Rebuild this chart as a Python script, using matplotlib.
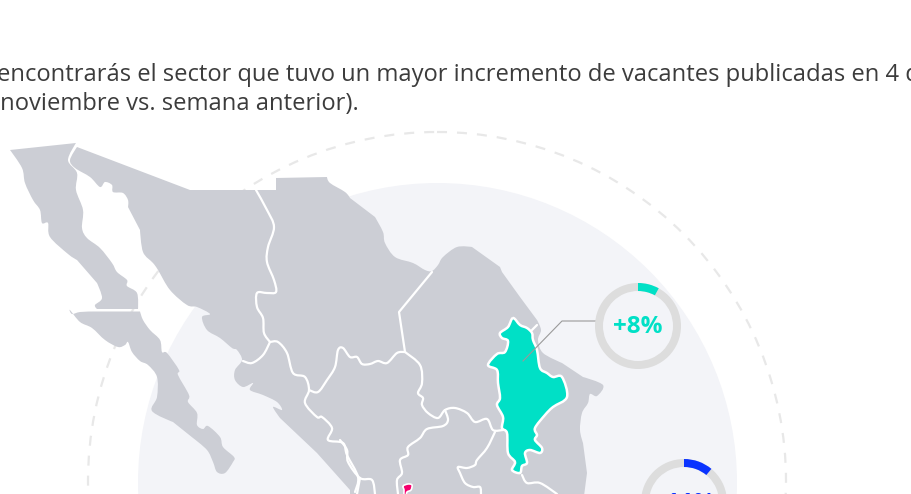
"""Mapa de vacantes: recorte con anillos de porcentaje por estado."""

import matplotlib

matplotlib.use("Agg")
import matplotlib.pyplot as plt
from matplotlib.patches import Circle, PathPatch, Wedge
from matplotlib.path import Path

# Texto de cabecera
LINE_1 = "encontrarás el sector que tuvo un mayor incremento de vacantes publicadas en 4 de"
LINE_2 = "(noviembre vs. semana anterior)."

# Contornos del mapa, en pixeles de la imagen
baja_norte = [
    (10, 150), (76, 143), (68, 160), (77, 173), (76, 190), (83, 210), (82, 228), (87, 238),
    (100, 248), (112, 263), (117, 272), (127, 280), (127, 286), (137, 293), (138, 309),
    (97, 309), (95, 305), (102, 298), (97, 283), (77, 260), (68, 254), (50, 237), (48, 223),
    (42, 223), (40, 210), (33, 200), (25, 183), (22, 168),
]
baja_sur = [
    (70, 310), (72, 314), (80, 312), (93, 311.5), (140, 311.5), (143, 320), (150, 330),
    (160, 340), (162, 352), (167, 353), (179, 370), (178, 375), (189, 395), (188, 402),
    (197, 413), (197, 425), (203, 429), (208, 426), (220, 437), (223, 447), (234, 457),
    (233, 462), (225, 473), (217, 472), (213, 462), (207, 450), (193, 438), (173, 422),
    (152, 411), (157, 397), (157, 377), (148, 365), (140, 361), (132, 352), (128, 342),
    (125, 345), (118, 347), (105, 340), (92, 328), (80, 322),
]
continente = [
    (77, 147), (190, 190), (276, 190), (276, 178), (327, 177), (330, 183), (345, 192),
    (350, 198), (375, 217), (383, 232), (385, 243), (395, 257), (413, 263), (425, 270),
    (432, 271), (438, 265), (443, 257), (457, 247), (472, 247), (500, 267), (502, 272),
    (520, 297), (537, 320), (541, 330), (538, 340), (543, 353), (562, 363), (583, 377),
    (603, 385), (597, 396), (590, 394), (588, 403), (582, 413), (580, 430), (583, 443),
    (587, 473), (584, 496), (350, 496), (350, 490), (317, 453), (280, 418), (273, 407),
    (282, 410), (277, 402), (263, 395), (250, 390), (253, 383), (243, 387), (235, 380),
    (235, 370), (242, 360), (237, 350), (232, 348), (220, 338), (207, 330), (202, 317),
    (210, 314), (197, 307), (187, 305), (170, 290), (158, 270), (153, 263), (143, 252),
    (140, 230), (128, 207), (128, 200), (123, 193), (113, 192), (112, 185), (105, 182),
    (100, 187), (90, 177), (75, 168), (70, 160),
]
nuevo_leon = [
    (513, 318), (508, 327), (500, 333), (502, 338), (508, 341), (505, 352), (497, 354),
    (488, 365), (497, 370), (498, 383), (500, 398), (497, 405), (503, 417), (502, 428),
    (507, 433), (508, 453), (515, 462), (512, 470), (520, 473), (522, 466), (527, 463),
    (525, 453), (530, 450), (540, 453), (542, 448), (535, 440), (537, 435), (535, 428),
    (545, 415), (553, 407), (567, 397), (562, 377), (553, 377), (547, 373), (540, 368),
    (537, 350), (533, 340), (532, 333), (527, 328), (520, 325),
]
aguascalientes = [
    (403, 486), (408, 484), (412, 485), (411, 490), (407, 492), (406, 496), (404, 496), (404, 490),
]

# Fronteras entre estados
fronteras = [
    [(256, 190), (267, 210), (274, 227), (268, 247), (267, 262), (274, 280), (276, 292),
     (267, 293), (257, 293), (257, 307), (263, 318), (264, 333), (270, 342)],
    [(270, 342), (263, 355), (252, 363), (243, 361)],
    [(270, 342), (278, 342), (287, 353), (293, 373), (305, 377), (309, 390), (305, 403),
     (317, 417), (322, 417), (332, 428), (328, 440), (343, 443), (347, 455), (358, 477), (355, 492)],
    [(309, 390), (318, 392), (327, 380), (335, 367), (338, 350), (343, 348), (350, 357),
     (357, 357), (362, 364), (370, 364), (378, 361), (387, 363), (397, 353), (405, 352)],
    [(432, 272), (399, 312), (405, 352)],
    [(405, 352), (420, 365), (422, 383), (418, 393), (423, 398), (422, 405), (428, 413),
     (438, 418), (445, 410), (455, 408), (467, 413), (475, 422), (487, 419), (493, 430), (503, 430)],
    [(340, 440), (347, 450), (348, 462), (360, 478), (372, 480), (375, 494)],
    [(360, 478), (357, 494)],
    [(445, 410), (448, 420), (443, 426), (427, 429), (420, 438), (408, 447), (408, 455),
     (400, 460), (402, 473), (397, 480), (398, 494)],
    [(495, 432), (487, 448), (477, 460), (475, 465), (467, 468), (458, 467), (460, 473),
     (465, 483), (473, 487), (480, 487), (481, 494)],
    [(522, 475), (527, 483), (540, 483), (557, 494)],
    [(532, 330), (537, 325)],
]

# Anillos: centro, valor, color y linea base del texto
ring_labels = ["+8%", "+11%"]
ring_values = [8, 11]
ring_centers = [(638, 326), (684, 502)]
ring_baselines = [333, 509.5]
ring_colors = ["#00E0C6", "#0A33FF"]

GREY_MAP = "#CCCED5"
PALE = "#F3F4F8"
LONG_SEGMENT = 25


def _smooth(points, closed=True):
    # Bezier por tramos; los tramos largos quedan rectos
    pts = list(points) + ([points[0]] if closed else [])
    n = len(pts)

    def dist(a, b):
        return ((a[0] - b[0]) ** 2 + (a[1] - b[1]) ** 2) ** 0.5

    tangents = []
    for i in range(n):
        if closed:
            prev_p, next_p = pts[(i - 1) % (n - 1)], pts[(i + 1) % (n - 1)]
        else:
            prev_p, next_p = pts[max(i - 1, 0)], pts[min(i + 1, n - 1)]
        if dist(prev_p, pts[i]) > LONG_SEGMENT or dist(next_p, pts[i]) > LONG_SEGMENT:
            tangents.append((0, 0))
        else:
            tangents.append(((next_p[0] - prev_p[0]) / 6, (next_p[1] - prev_p[1]) / 6))

    verts = [pts[0]]
    codes = [Path.MOVETO]
    for i in range(n - 1):
        a, b = pts[i], pts[i + 1]
        ta, tb = tangents[i], tangents[i + 1]
        verts += [(a[0] + ta[0], a[1] + ta[1]), (b[0] - tb[0], b[1] - tb[1]), b]
        codes += [Path.CURVE4] * 3
    return Path(verts, codes)


fig = plt.figure(figsize=(9.12, 4.94), dpi=100)
ax = fig.add_axes([0, 0, 1, 1])
ax.set_xlim(0, 912)
ax.set_ylim(494, 0)
ax.axis("off")

ax.add_patch(Circle((437.5, 482.5), 299.5, fc=PALE, ec="none", zorder=1))
ax.add_patch(Circle((437, 481), 349, fc="none", ec="#E8E8E8", lw=1.6, ls=(0, (4.5, 4.5)), zorder=1))

for outline in (baja_norte, baja_sur, continente):
    ax.add_patch(PathPatch(_smooth(outline), fc=GREY_MAP, ec="none", zorder=2))
for border in fronteras:
    ax.add_patch(PathPatch(_smooth(border, closed=False), fc="none", ec="white", lw=1.6,
                           joinstyle="round", capstyle="round", zorder=3))

ax.add_patch(PathPatch(_smooth(nuevo_leon), fc="#00E0C6", ec="white", lw=1.8, joinstyle="round", zorder=4))
ax.add_patch(PathPatch(_smooth(aguascalientes), fc="#F5006E", ec="white", lw=1.2, zorder=4))

ax.plot([596, 562, 523], [321, 321, 361], color="#9A9A9A", lw=0.8, zorder=5)

for label, value, center, base, color in zip(ring_labels, ring_values, ring_centers, ring_baselines, ring_colors):
    ax.add_patch(Wedge(center, 43, 0, 360, width=8, fc="#DDDDDD", ec="none", zorder=5))
    ax.add_patch(Wedge(center, 43, -90, -90 + 360 * value / 100, width=8, fc=color, ec="none", zorder=6))
    ax.text(center[0], base, label, color=color, fontsize=17.5, fontweight="bold",
            family="Open Sans", ha="center", va="baseline", zorder=6)

ax.text(-3, 81, LINE_1, color="#3C3C3C", fontsize=17.15, family="Open Sans", ha="left", va="baseline")
ax.text(-7, 110, LINE_2, color="#3C3C3C", fontsize=17.15, family="Open Sans", ha="left", va="baseline")

fig.savefig("out.png", dpi=100)
